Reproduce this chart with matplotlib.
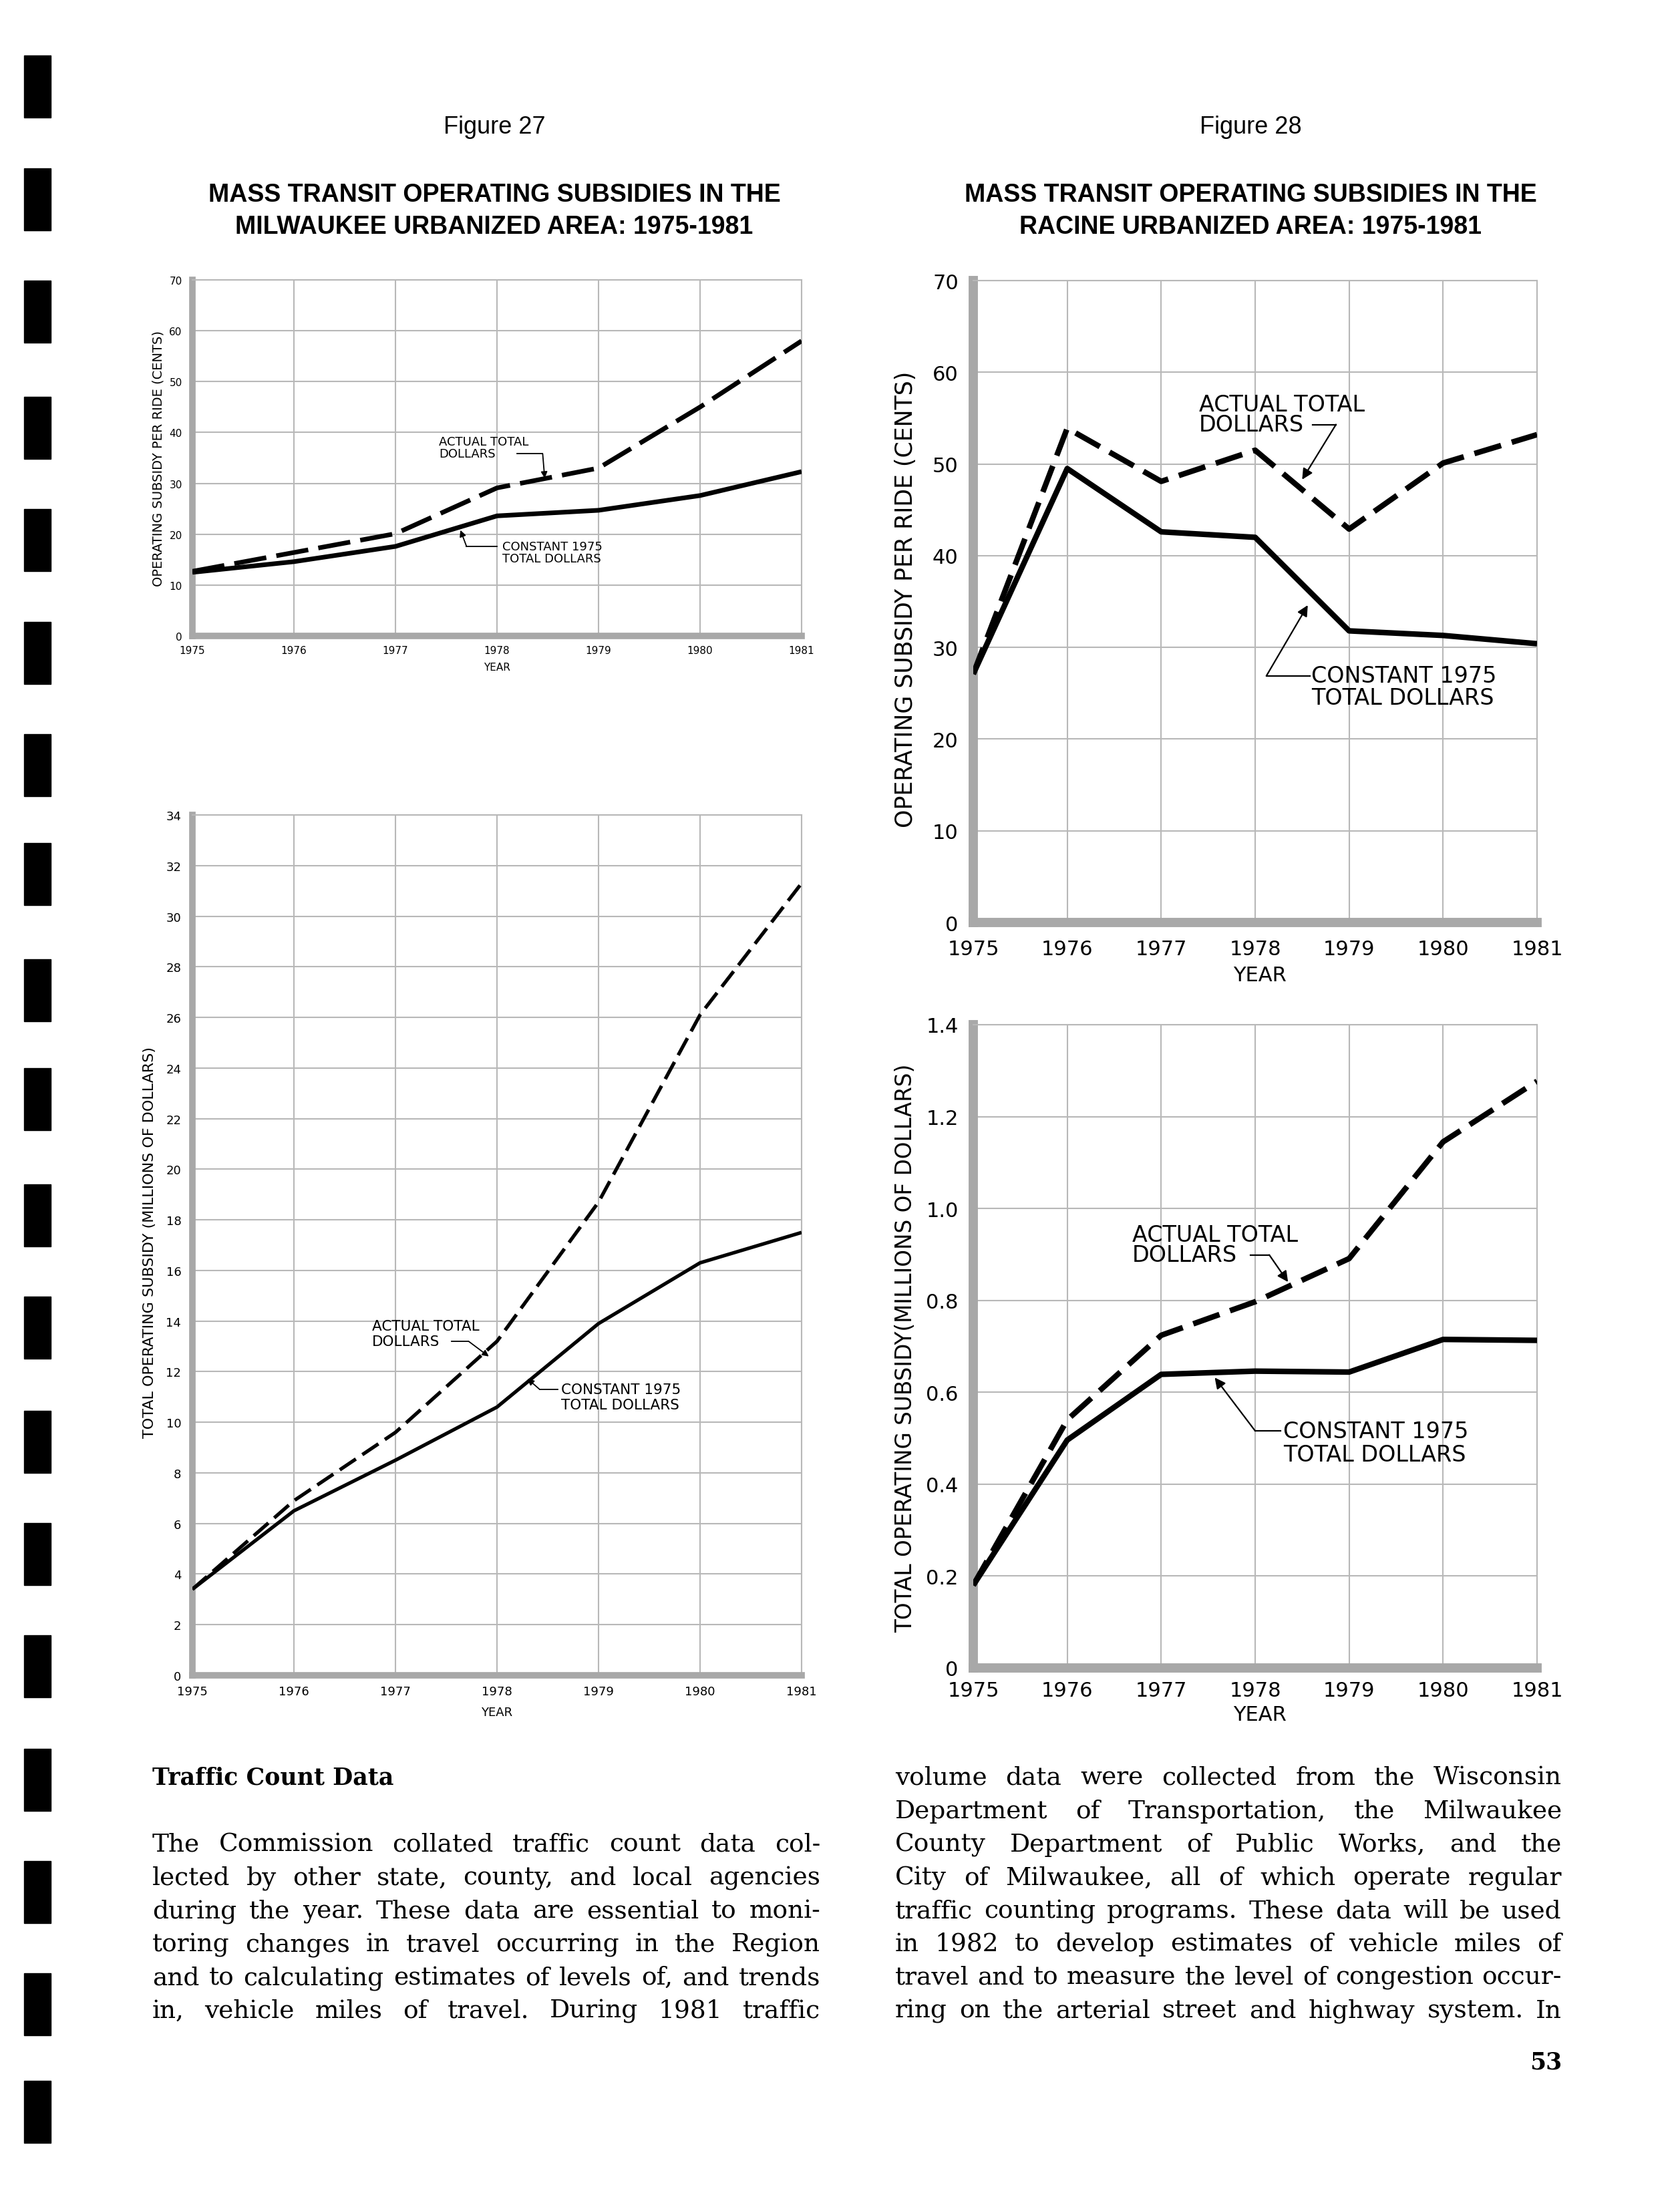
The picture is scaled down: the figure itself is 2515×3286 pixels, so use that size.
import matplotlib
matplotlib.use("Agg")
import matplotlib.pyplot as plt
from matplotlib.patches import Rectangle

W, H = 2515, 3287

##! Data
years = [1975, 1976, 1977, 1978, 1979, 1980, 1981]

# Figure 27: Milwaukee urbanized area
mke_ride_actual = [12.7, 16.4, 20.1, 29.1, 33.0, 45.0, 58.0]
mke_ride_constant = [12.5, 14.6, 17.6, 23.6, 24.7, 27.6, 32.3]
mke_total_actual = [3.4, 6.9, 9.6, 13.2, 18.7, 26.1, 31.3]
mke_total_constant = [3.4, 6.5, 8.5, 10.6, 13.9, 16.3, 17.5]

# Figure 28: Racine urbanized area
rac_ride_actual = [27.1, 53.9, 48.1, 51.5, 42.9, 50.1, 53.2]
rac_ride_constant = [27.1, 49.5, 42.6, 42.0, 31.8, 31.3, 30.4]
rac_total_actual = [0.18, 0.54, 0.724, 0.797, 0.891, 1.145, 1.277]
rac_total_constant = [0.18, 0.496, 0.639, 0.646, 0.644, 0.715, 0.713]

ride_ticks = [0, 10, 20, 30, 40, 50, 60, 70]
mke_total_ticks = list(range(0, 35, 2))
rac_total_ticks = [0, 0.2, 0.4, 0.6, 0.8, 1.0, 1.2, 1.4]
rac_total_labels = ["0", "0.2", "0.4", "0.6", "0.8", "1.0", "1.2", "1.4"]

left_text = [
    "The Commission collated traffic count data col-",
    "lected by other state, county, and local agencies",
    "during the year. These data are essential to moni-",
    "toring changes in travel occurring in the Region",
    "and to calculating estimates of levels of, and trends",
    "in, vehicle miles of travel. During 1981 traffic",
]
right_text = [
    "volume data were collected from the Wisconsin",
    "Department of Transportation, the Milwaukee",
    "County Department of Public Works, and the",
    "City of Milwaukee, all of which operate regular",
    "traffic counting programs. These data will be used",
    "in 1982 to develop estimates of vehicle miles of",
    "travel and to measure the level of congestion occur-",
    "ring on the arterial street and highway system. In",
]

# scanner marks along the binding edge (top pixel of each)
binding_marks = [84, 253, 421, 595, 763, 932, 1100, 1263, 1437, 1600,
                 1774, 1942, 2113, 2281, 2449, 2619, 2787, 2955, 3116]

CHART_FONT = "DejaVu Sans"
TITLE_FONT = ["Liberation Sans", "DejaVu Sans"]
BODY_FONT = "DejaVu Serif"

fig = plt.figure(figsize=(W / 100, H / 100), dpi=100)
fig.patch.set_facecolor("white")


def fx(x):
    return x / W


def fy(y):
    return 1 - y / H


def panel(box, yticks, ylabels, actual, constant, fs, spine_w, line_w, dash,
          xpad, ypad):
    left, top, right, bottom = box
    ax = fig.add_axes([fx(left), fy(bottom), (right - left) / W, (bottom - top) / H])
    ax.set_xlim(years[0], years[-1])
    ax.set_ylim(yticks[0], yticks[-1])
    ax.set_xticks(years)
    ax.set_xticklabels([str(y) for y in years])
    ax.set_yticks(yticks)
    ax.set_yticklabels(ylabels)
    ax.grid(True, color="#b8b8b8", lw=1.5)
    ax.set_axisbelow(True)
    for side in ("top", "right"):
        ax.spines[side].set_color("#b8b8b8")
        ax.spines[side].set_linewidth(1.5)
    for side in ("left", "bottom"):
        ax.spines[side].set_color("#a8a8a8")
        ax.spines[side].set_linewidth(spine_w)
    ax.tick_params(axis="x", length=0, labelsize=fs, pad=xpad)
    ax.tick_params(axis="y", length=0, labelsize=fs, pad=ypad)
    for lab in ax.get_xticklabels() + ax.get_yticklabels():
        lab.set_family(CHART_FONT)
    ax.plot(years, constant, color="black", lw=line_w, zorder=3,
            solid_capstyle="butt")
    ax.plot(years, actual, color="black", lw=line_w, zorder=3,
            linestyle=(0, dash), dash_capstyle="butt")
    return ax


def callout(ax, x, lines, fs, leader, lw, head):
    for s, y in lines:
        ax.text(x, y, s, fontsize=fs, family=CHART_FONT, ha="left", va="center",
                zorder=4)
    (sx, sy), (ex, ey), (tx, ty) = leader
    ax.plot([sx, ex], [sy, ey], color="black", lw=lw, zorder=4)
    ax.annotate("", xy=(tx, ty), xytext=(ex, ey),
                arrowprops=dict(arrowstyle="-|>", color="black", lw=lw,
                                shrinkA=0, shrinkB=0, mutation_scale=head),
                zorder=4)


#-- Figure 27, per ride
ax1 = panel((288, 420, 1200, 953), ride_ticks, [str(t) for t in ride_ticks],
            mke_ride_actual, mke_ride_constant, 11, 7, 5, (7, 2.2), 10, 11)
callout(ax1, 1977.43, [("ACTUAL TOTAL", 38.2), ("DOLLARS", 35.8)], 13,
        ((1978.2, 35.8), (1978.45, 35.8), (1978.47, 31.0)), 1.3, 14)
callout(ax1, 1978.05, [("CONSTANT 1975", 17.6), ("TOTAL DOLLARS", 15.2)], 13,
        ((1978.0, 17.6), (1977.7, 17.6), (1977.64, 20.8)), 1.3, 14)

#-- Figure 27, total
ax2 = panel((288, 1221, 1200, 2509), mke_total_ticks,
            [str(t) for t in mke_total_ticks],
            mke_total_actual, mke_total_constant, 13, 7, 3.8, (5.5, 2.2), 11, 12)
callout(ax2, 1976.77, [("ACTUAL TOTAL", 13.8), ("DOLLARS", 13.2)], 15.5,
        ((1977.55, 13.2), (1977.72, 13.2), (1977.92, 12.6)), 1.3, 14)
callout(ax2, 1978.63, [("CONSTANT 1975", 11.3), ("TOTAL DOLLARS", 10.7)], 15.5,
        ((1978.6, 11.3), (1978.42, 11.3), (1978.3, 11.72)), 1.3, 14)

#-- Figure 28, per ride
ax3 = panel((1457, 421, 2301, 1382), ride_ticks, [str(t) for t in ride_ticks],
            rac_ride_actual, rac_ride_constant, 22, 10, 6, (5, 2), 18, 16)
callout(ax3, 1977.40, [("ACTUAL TOTAL", 56.5), ("DOLLARS", 54.3)], 24,
        ((1978.61, 54.3), (1978.86, 54.3), (1978.50, 48.3)), 1.6, 24)
callout(ax3, 1978.60, [("CONSTANT 1975", 26.9), ("TOTAL DOLLARS", 24.5)], 24,
        ((1978.58, 26.9), (1978.12, 26.9), (1978.56, 34.6)), 1.6, 24)

#-- Figure 28, total
ax4 = panel((1457, 1535, 2301, 2498), rac_total_ticks, rac_total_labels,
            rac_total_actual, rac_total_constant, 22, 10, 6, (5, 2), 14, 16)
callout(ax4, 1976.69, [("ACTUAL TOTAL", 0.943), ("DOLLARS", 0.899)], 24,
        ((1977.95, 0.899), (1978.15, 0.899), (1978.35, 0.840)), 1.6, 24)
callout(ax4, 1978.30, [("CONSTANT 1975", 0.516), ("TOTAL DOLLARS", 0.465)], 24,
        ((1978.27, 0.516), (1978.0, 0.516), (1977.57, 0.632)), 1.6, 24)

##! Axis titles
fig.text(fx(237), fy(686), "OPERATING SUBSIDY PER RIDE (CENTS)", rotation=90,
         ha="center", va="center", fontsize=14, family=CHART_FONT)
fig.text(fx(744), fy(1000), "YEAR", ha="center", va="center", fontsize=11,
         family=CHART_FONT)
fig.text(fx(224), fy(1860), "TOTAL OPERATING SUBSIDY (MILLIONS OF DOLLARS)",
         rotation=90, ha="center", va="center", fontsize=16, family=CHART_FONT)
fig.text(fx(744), fy(2564), "YEAR", ha="center", va="center", fontsize=13,
         family=CHART_FONT)
fig.text(fx(1356), fy(897), "OPERATING SUBSIDY PER RIDE (CENTS)", rotation=90,
         ha="center", va="center", fontsize=25, family=CHART_FONT)
fig.text(fx(1886), fy(1461), "YEAR", ha="center", va="center", fontsize=22,
         family=CHART_FONT)
fig.text(fx(1356), fy(2018), "TOTAL OPERATING SUBSIDY(MILLIONS OF DOLLARS)",
         rotation=90, ha="center", va="center", fontsize=23.5, family=CHART_FONT)
fig.text(fx(1886), fy(2567), "YEAR", ha="center", va="center", fontsize=22,
         family=CHART_FONT)

##! Figure headings
for cx, num, area in [(740, "27", "MILWAUKEE"), (1872, "28", "RACINE")]:
    fig.text(fx(cx), fy(190), "Figure " + num, ha="center", va="center",
             fontsize=26, family=TITLE_FONT)
    fig.text(fx(cx), fy(292), "MASS TRANSIT OPERATING SUBSIDIES IN THE",
             ha="center", va="center", fontsize=27, family=TITLE_FONT,
             weight="bold")
    fig.text(fx(cx), fy(340), area + " URBANIZED AREA: 1975-1981",
             ha="center", va="center", fontsize=27, family=TITLE_FONT,
             weight="bold")

##! Body text, justified line by line
renderer = fig.canvas.get_renderer()


def justify(line, x0, x1, base, size):
    words = line.split()
    while True:
        texts = [fig.text(0, 0, w, fontsize=size, family=BODY_FONT,
                          ha="left", va="baseline") for w in words]
        widths = [t.get_window_extent(renderer).width for t in texts]
        gap = (x1 - x0 - sum(widths)) / (len(words) - 1)
        if gap >= 7 or size < 18:
            break
        for t in texts:
            t.remove()
        size -= 0.5
    x = x0
    for t, w in zip(texts, widths):
        t.set_position((fx(x), fy(base)))
        x += w + gap


fig.text(fx(228), fy(2672), "Traffic Count Data", fontsize=25, weight="bold",
         family=BODY_FONT, ha="left", va="baseline")
for i, line in enumerate(left_text):
    justify(line, 228, 1228, 2772 + i * 49.8, 27)
for i, line in enumerate(right_text):
    justify(line, 1340, 2338, 2672 + i * 49.8, 27)
fig.text(fx(2338), fy(3098), "53", fontsize=25, weight="bold",
         family=BODY_FONT, ha="right", va="baseline")

#-- binding edge marks
for top in binding_marks:
    fig.patches.append(Rectangle((fx(36), fy(top + 93)), 40 / W, 93 / H,
                                 transform=fig.transFigure, color="black"))

fig.savefig("out.png", dpi=100, facecolor="white")
